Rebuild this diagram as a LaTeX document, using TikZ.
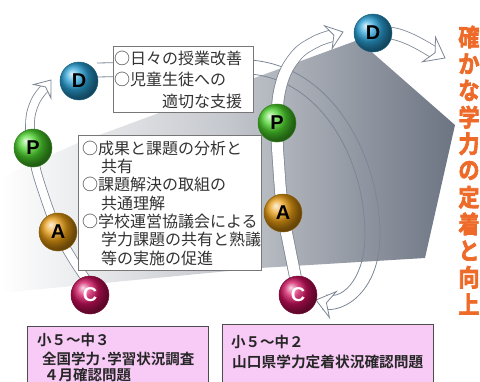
\documentclass[tikz,border=0pt]{standalone}
\usepackage{fontspec}
\newfontfamily\jp{Noto Sans CJK JP}
\newfontfamily\jpb{Noto Sans CJK JP Bold}
\newfontfamily\jpt{Noto Sans CJK JP Bold}[FakeBold=3]
\newfontfamily\lsb{Liberation Sans}
\definecolor{bandgray}{HTML}{7D8694}
\definecolor{shapegray}{HTML}{6C7482}
\definecolor{boxline}{HTML}{777777}
\definecolor{pinkfill}{HTML}{F8CBF6}
\definecolor{txtcol}{HTML}{333333}
\definecolor{ballD}{HTML}{2AA2D8}
\definecolor{ballP}{HTML}{4CD42C}
\definecolor{ballA}{HTML}{E89C12}
\definecolor{ballC}{HTML}{D0105E}
\definecolor{titlein}{HTML}{EE6A28}
\tikzset{
  band/.style={draw=bandgray, line width=0.8pt, double=white, double distance=#1},
  band/.default=9pt,
  headst/.style={draw=bandgray, line width=0.8pt, fill=white, line join=miter},
  ballst/.style={circle, minimum size=38pt, inner sep=0pt, ball color=#1, draw=#1!60!black, line width=0.5pt, font=\lsb\bfseries\fontsize{20}{20}\selectfont},
  whitebox/.style={draw=boxline, line width=0.9pt, fill=white, inner sep=0pt, anchor=north west},
  pinkbox/.style={draw=black!70, line width=1.1pt, fill=pinkfill, inner sep=0pt, anchor=north west},
  boxtxt/.style={anchor=base west, inner sep=0pt, text=txtcol, font=\jp\fontsize{16}{16}\selectfont},
  bottxt/.style={anchor=base west, inner sep=0pt, text=black!85, font=\jpb\fontsize{14.5}{14.5}\selectfont},
  tch/.style={inner sep=0pt, text=titlein, font=\jpt\fontsize{24}{24}\selectfont, xscale=0.88},
}
\newcommand\ahd[4]{\filldraw[headst, shift={(#1,#2)}, rotate={0-(#3)}, scale=#4] (0,0) -- (-13,-10) -- (-8,0) -- (-13,10) -- cycle;}
\begin{document}
\begin{tikzpicture}[x=1pt,y=-1pt]
\useasboundingbox (0,0) rectangle (480,381);
% grey background shape
\shade[left color=white, right color=shapegray, middle color=shapegray!40!white]
  (0,178) -- (80,142) -- (358,40) -- (455,125) -- (425,258) -- (260,268) -- (0,293) -- cycle;
% big band from left D to right C (outline only)
\draw[draw=bandgray, line width=0.8pt] (97,63) -- (250,60) .. controls (335,66) and (380,160) .. (380,235) .. controls (380,290) and (345,314) .. (322,309);
\draw[draw=bandgray, line width=0.8pt] (97,77) -- (250,74) .. controls (322,80) and (365,160) .. (365,235) .. controls (365,275) and (345,300) .. (326,295);
\ahd{316}{300}{195}{1.35}
% left cycle band
\draw[band=8pt] plot[smooth, tension=0.7] coordinates {(88,282) (72,258) (58,232) (44,195) (34,160) (30,125) (35,102) (46,87)};
\ahd{51}{80}{-52}{1.1}
% right cycle band
\draw[band=11pt] plot[smooth, tension=0.7] coordinates {(296,280) (289,245) (283,213) (279,170) (277,123) (281,85) (295,57) (315,42) (335,35)};
\ahd{343}{32}{-19}{1.2}
% right D outgoing
\draw[band=11pt] (390,33) .. controls (405,35) and (420,44) .. (435,53);
\ahd{445}{58}{28}{1.4}
% box 1
\node[whitebox, minimum width=140pt, minimum height=66pt] (box1) at (113,46) {};
\node[boxtxt] (b1l1) at (114,64) {○日々の授業改善};
\node[boxtxt] (b1l2) at (114,85) {○児童生徒への};
\node[boxtxt] (b1l3) at (162,107) {適切な支援};
% box 2
\node[whitebox, minimum width=183pt, minimum height=135pt] (box2) at (78,135) {};
\node[boxtxt] (b2l1) at (82,154) {○成果と課題の分析と};
\node[boxtxt] (b2l2) at (101,172) {共有};
\node[boxtxt] (b2l3) at (82,190) {○課題解決の取組の};
\node[boxtxt] (b2l4) at (101,209) {共通理解};
\node[boxtxt] (b2l5) at (82,227) {○学校運営協議会による};
\node[boxtxt] (b2l6) at (101,245) {学力課題の共有と熟議};
\node[boxtxt] (b2l7) at (101,264) {等の実施の促進};
% balls
\node[ballst=ballD] (D1) at (79,81) {D};
\node[ballst=ballP] (P1) at (33,148) {P};
\node[ballst=ballA] (A1) at (58,232) {A};
\node[ballst=ballC, text=white] (C1) at (90,295) {C};
\node[ballst=ballD] (D2) at (373,33) {D};
\node[ballst=ballP] (P2) at (277,123) {P};
\node[ballst=ballA] (A2) at (283,213) {A};
\node[ballst=ballC, text=white] (C2) at (298,295) {C};
% bottom boxes
\node[pinkbox, minimum width=181pt, minimum height=70pt] (boxA) at (27,326) {};
\node[bottxt] (boxAt1) at (37,345) {小５～中３};
\node[bottxt] (boxAt2) at (42,364) {全国学力･学習状況調査};
\node[bottxt] (boxAt3) at (44,380) {４月確認問題};
\node[pinkbox, minimum width=211pt, minimum height=70pt] (boxB) at (222,324) {};
\node[bottxt] (boxBt1) at (231,347) {小５～中２};
\node[bottxt, font=\jpb\fontsize{14.7}{14.7}\selectfont] (boxBt2) at (232,367) {山口県学力定着状況確認問題};
% vertical title
\foreach \ch [count=\i from 0] in {確,か,な,学,力,の,定,着,と,向,上} {
  \node[tch] (t\i) at (469, 37+26.7*\i) {\ch};
}
\end{tikzpicture}
\end{document}
